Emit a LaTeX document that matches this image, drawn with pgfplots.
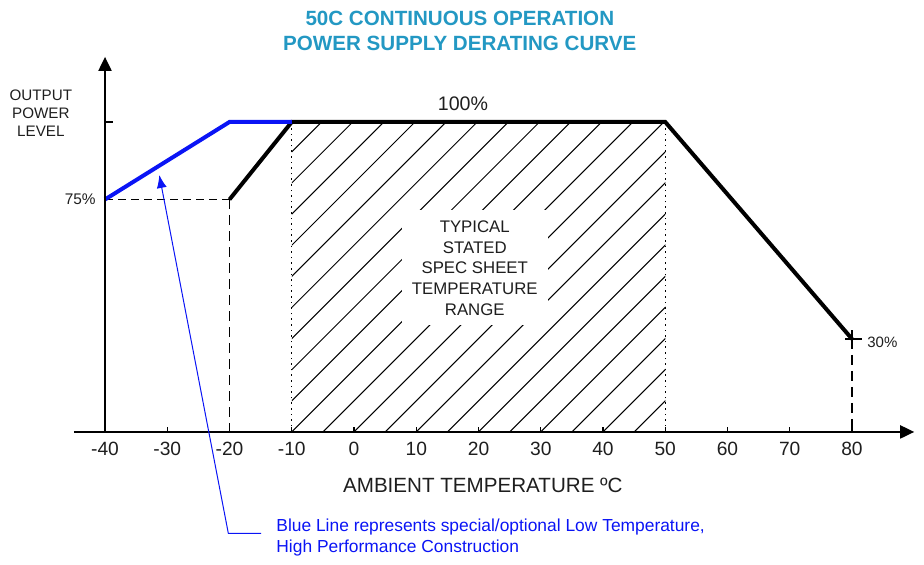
\documentclass[border=0pt]{standalone}
\usepackage{fontspec}
\setmainfont{Liberation Sans}
\usepackage{pgfplots}
\pgfplotsset{compat=1.18}
\usetikzlibrary{arrows.meta}

\definecolor{titleblue}{RGB}{35,152,195}
\definecolor{txt}{RGB}{30,30,30}
\definecolor{lineblue}{RGB}{10,20,245}

\begin{document}
\begin{tikzpicture}
\begin{axis}[
    scale only axis,
    width=420.2pt, height=187.55pt,
    xmin=-45, xmax=90, ymin=0, ymax=121,
    clip=false,
    axis x line=middle,
    axis y line=none,
    x axis line style={line width=1pt, -{Triangle[length=7pt,width=6.5pt]}},
    hide obscured x ticks=false,
    xtick={-40,-30,...,80},
    xtick align=inside,
    major tick length=2.5pt,
    tick style={line width=0.7pt, black},
    /pgf/number format/assume math mode=true,
    xticklabel style={font=\fontsize{9.6}{11}\selectfont, text=txt, yshift=-1.5pt},
    ytick=\empty,
]
% reference lines
\addplot[black, line width=0.7pt, dash pattern=on 4pt off 2.5pt] coordinates {(-40,75) (-20,75)};
\addplot[black, line width=0.7pt, dash pattern=on 5pt off 3pt] coordinates {(-20,75) (-20,0)};
\addplot[black, line width=0.7pt, dash pattern=on 5pt off 3pt] coordinates {(80,30) (80,0)};
\addplot[black, line width=0.7pt, dash pattern=on 0.8pt off 2pt] coordinates {(-10,0) (-10,100)};
\addplot[black, line width=0.7pt, dash pattern=on 0.8pt off 2pt] coordinates {(50,0) (50,100)};
% derating curves
\addplot[black, line width=2pt] coordinates {(-20,75) (-10,100) (50,100) (80,30)};
\addplot[lineblue, line width=2pt] coordinates {(-40,75) (-20,100) (-10,100)};
% y axis
\draw[line width=1pt, -{Triangle[length=7pt,width=6.5pt]}] (axis cs:-40,0) -- (axis cs:-40,121);
\draw[line width=0.7pt] (axis cs:-40,100) -- (axis cs:-38.7,100);
\draw[line width=0.7pt] (axis cs:78.9,30) -- (axis cs:81.6,30);
\draw[line width=0.7pt] (axis cs:80,27) -- (axis cs:80,33);
% labels
\node[text=txt, font=\fontsize{7.6}{9}\selectfont, align=center] at (axis cs:-50.3,102.9) {OUTPUT\\POWER\\LEVEL};
\node[text=txt, font=\fontsize{7.7}{9}\selectfont, anchor=east, inner sep=0pt] at (axis cs:-41.45,75) {75\%};
\node[text=txt, font=\fontsize{7.5}{9}\selectfont, anchor=west, inner sep=0pt] at (axis cs:82.4,29) {30\%};
\node[text=txt, font=\fontsize{9.8}{11}\selectfont] at (axis cs:17.5,106) {100\%};
\node[text=txt, font=\fontsize{10.3}{12}\selectfont] at (axis cs:20.7,-17.4) {AMBIENT TEMPERATURE ºC};
\node[text=titleblue, font=\fontsize{10.3}{12.5}\selectfont\bfseries, align=center] at (axis cs:17,129.5) {50C CONTINUOUS OPERATION\\POWER SUPPLY DERATING CURVE};
% annotation
\draw[lineblue, line width=0.5pt, -{Latex[length=6.5pt,width=5pt]}] (axis cs:-14.94,-32.7) -- (axis cs:-20.19,-32.7) -- (axis cs:-31.28,82.9);
\node[text=lineblue, font=\fontsize{8.7}{10.8}\selectfont, align=left, anchor=west, inner sep=0pt] at (axis cs:-12.53,-34.0) {Blue Line represents special/optional Low Temperature,\\High Performance Construction};
% helper coordinates
\coordinate (hSW) at (axis cs:-10,0);
\coordinate (hNE) at (axis cs:50,100);
\coordinate (tc) at (axis cs:19.4,52.9);
\coordinate (bbSW) at (axis cs:-56.87,-42.9);
\coordinate (bbNE) at (axis cs:91.57,139.35);
\end{axis}
% hatching of the stated temperature range
\begin{scope}
\clip (hSW) rectangle (hNE);
\foreach \i in {-10,...,11}
  \draw[black, line width=0.5pt] ([xshift=\i*15.5625pt]hSW) -- ++(200pt,200pt);
\end{scope}
\node[fill=white, text=txt, font=\fontsize{8.4}{10.35}\selectfont, align=center, minimum width=73pt, minimum height=57.5pt] at (tc) {TYPICAL\\STATED\\SPEC SHEET\\TEMPERATURE\\RANGE};
\pgfresetboundingbox
\path[use as bounding box] (bbSW) rectangle (bbNE);
\end{tikzpicture}
\end{document}
